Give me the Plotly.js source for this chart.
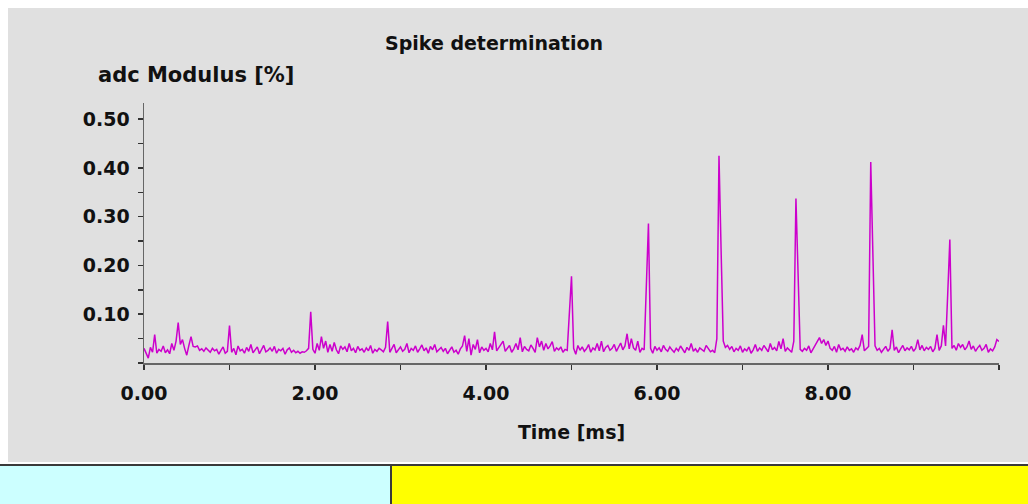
<!DOCTYPE html>
<html><head><meta charset="utf-8">
<script src="https://cdn.plot.ly/plotly-3.0.1.min.js"></script>
<style>html,body{margin:0;padding:0;background:#fff;overflow:hidden;} #chart{width:1028px;height:504px;}</style>
</head><body><div id="chart"></div>
<script>
// ---- data ----
const sampleStart = 0;      // ms
const sampleStep = 0.025;   // ms per sample
const adcModulus = [
  0.030,0.018,0.010,0.032,0.022,0.058,0.020,0.028,0.024,0.035,0.021,0.027,0.019,0.040,0.026,0.045,0.083,0.038,0.048,0.030,
  0.016,0.036,0.054,0.034,0.033,0.035,0.026,0.029,0.024,0.031,0.027,0.022,0.030,0.025,0.028,0.018,0.026,0.033,0.020,0.024,
  0.077,0.022,0.030,0.017,0.035,0.025,0.028,0.020,0.032,0.024,0.038,0.021,0.027,0.033,0.019,0.029,0.036,0.023,0.026,0.031,
  0.024,0.034,0.020,0.028,0.025,0.030,0.018,0.027,0.031,0.022,0.026,0.021,0.024,0.020,0.023,0.022,0.025,0.030,0.105,0.028,
  0.020,0.040,0.026,0.054,0.030,0.045,0.022,0.038,0.024,0.042,0.027,0.019,0.035,0.028,0.033,0.023,0.040,0.025,0.030,0.021,
  0.034,0.026,0.029,0.022,0.031,0.025,0.036,0.020,0.028,0.024,0.030,0.027,0.023,0.032,0.085,0.022,0.030,0.038,0.021,0.026,
  0.033,0.024,0.028,0.040,0.021,0.030,0.026,0.035,0.022,0.029,0.037,0.025,0.031,0.020,0.034,0.027,0.038,0.023,0.028,0.032,
  0.024,0.030,0.019,0.027,0.033,0.022,0.026,0.018,0.029,0.035,0.056,0.024,0.050,0.016,0.038,0.028,0.048,0.021,0.033,0.026,
  0.030,0.023,0.040,0.027,0.064,0.025,0.032,0.038,0.045,0.024,0.031,0.036,0.022,0.029,0.040,0.027,0.052,0.023,0.034,0.028,
  0.025,0.037,0.030,0.022,0.052,0.033,0.045,0.026,0.040,0.029,0.035,0.044,0.024,0.031,0.027,0.033,0.022,0.028,0.026,0.104,
  0.178,0.030,0.018,0.036,0.026,0.033,0.024,0.029,0.038,0.022,0.031,0.027,0.040,0.025,0.045,0.023,0.032,0.036,0.026,0.030,
  0.038,0.024,0.033,0.041,0.027,0.035,0.060,0.029,0.050,0.031,0.026,0.045,0.022,0.030,0.027,0.158,0.286,0.030,0.020,0.034,
  0.026,0.031,0.023,0.036,0.028,0.024,0.033,0.027,0.022,0.030,0.025,0.035,0.028,0.021,0.032,0.026,0.040,0.024,0.029,0.022,
  0.031,0.027,0.024,0.036,0.029,0.023,0.026,0.021,0.050,0.425,0.228,0.045,0.032,0.036,0.028,0.034,0.023,0.030,0.026,0.035,
  0.022,0.029,0.025,0.033,0.020,0.027,0.038,0.024,0.031,0.026,0.036,0.028,0.023,0.040,0.027,0.032,0.025,0.044,0.029,0.050,
  0.024,0.031,0.027,0.022,0.045,0.337,0.183,0.028,0.024,0.030,0.026,0.035,0.021,0.029,0.038,0.044,0.052,0.040,0.048,0.036,
  0.045,0.030,0.026,0.034,0.022,0.038,0.027,0.030,0.024,0.033,0.026,0.029,0.022,0.031,0.027,0.036,0.058,0.025,0.030,0.034,
  0.412,0.217,0.035,0.026,0.030,0.022,0.028,0.034,0.024,0.030,0.068,0.026,0.033,0.021,0.029,0.036,0.025,0.031,0.027,0.034,
  0.024,0.030,0.048,0.027,0.036,0.025,0.032,0.028,0.034,0.023,0.030,0.058,0.026,0.035,0.077,0.035,0.141,0.253,0.030,0.036,
  0.026,0.040,0.032,0.038,0.027,0.033,0.045,0.028,0.035,0.024,0.031,0.036,0.026,0.030,0.038,0.022,0.029,0.025,0.033,0.048,0.044
];
const xTickValues = [0,1,2,3,4,5,6,7,8,9,10];
const xTickLabels = ['0.00','','2.00','','4.00','','6.00','','8.00','',''];
const yTickValues = [0,0.05,0.10,0.15,0.20,0.25,0.30,0.35,0.40,0.45,0.50];
const yTickLabels = ['','','0.10','','0.20','','0.30','','0.40','','0.50'];
const chartTitle = 'Spike determination';
const yTitle = 'adc Modulus [%]';
const xTitle = 'Time [ms]';

// ---- layout geometry (pixels) ----
const W = 1028, H = 504, L = 144, R = 29, T = 103, B = 141;
const pw = W - L - R, ph = H - T - B;
const px = x => (x - L) / pw;
const py = y => (H - B - y) / ph;

const grey = '#e0e0e0';
const font = {family: 'DejaVu Sans, Arial, sans-serif', size: 19, color: '#111', weight: 'bold'};
const yTitleFont = Object.assign({}, font, {size: 21});

const trace = {
  type: 'scatter', mode: 'lines',
  x0: sampleStart, dx: sampleStep, y: adcModulus,
  line: {color: '#cc00cc', width: 1.5},
  hoverinfo: 'skip'
};

const layout = {
  width: W, height: H,
  margin: {l: L, r: R, t: T, b: B, pad: 0},
  paper_bgcolor: '#ffffff',
  plot_bgcolor: grey,
  font: font,
  showlegend: false,
  title: {text: chartTitle, font: font, xref: 'container', yref: 'container',
          x: 494 / W, xanchor: 'center', y: 1 - 43 / H, yanchor: 'middle'},
  xaxis: {
    range: [0, 10], autorange: false, fixedrange: true,
    tickmode: 'array', tickvals: xTickValues, ticktext: xTickLabels,
    ticks: 'outside', ticklen: 5, tickwidth: 1.5, tickcolor: '#333',
    ticklabelstandoff: 8,
    showline: true, linecolor: '#666', linewidth: 1.5,
    showgrid: false, zeroline: false, automargin: false,
    tickfont: font,
    title: {text: xTitle, font: font, standoff: 22}
  },
  yaxis: {
    range: [0, 0.533], autorange: false, fixedrange: true,
    tickmode: 'array', tickvals: yTickValues, ticktext: yTickLabels,
    ticks: 'outside', ticklen: 5, tickwidth: 1.5, tickcolor: '#333',
    ticklabelstandoff: 4,
    showline: true, linecolor: '#666', linewidth: 1.5,
    showgrid: false, zeroline: false, automargin: false,
    tickfont: font
  },
  annotations: [
    {text: yTitle, xref: 'paper', yref: 'paper', x: px(96), y: py(75),
     xanchor: 'left', yanchor: 'middle', showarrow: false, font: yTitleFont}
  ],
  shapes: [
    {type: 'rect', xref: 'paper', yref: 'paper', x0: px(8), x1: px(W), y0: py(462), y1: py(8),
     fillcolor: grey, line: {width: 0}, layer: 'below'},
    {type: 'rect', xref: 'paper', yref: 'paper', x0: px(0), x1: px(W), y0: py(H), y1: py(464),
     fillcolor: '#3a3a3a', line: {width: 0}, layer: 'above'},
    {type: 'rect', xref: 'paper', yref: 'paper', x0: px(0), x1: px(390), y0: py(H), y1: py(466),
     fillcolor: '#ccffff', line: {width: 0}, layer: 'above'},
    {type: 'rect', xref: 'paper', yref: 'paper', x0: px(392), x1: px(W), y0: py(H), y1: py(466),
     fillcolor: '#ffff00', line: {width: 0}, layer: 'above'}
  ]
};

Plotly.newPlot('chart', [trace], layout, {staticPlot: true, displayModeBar: false});
</script>
</body></html>
